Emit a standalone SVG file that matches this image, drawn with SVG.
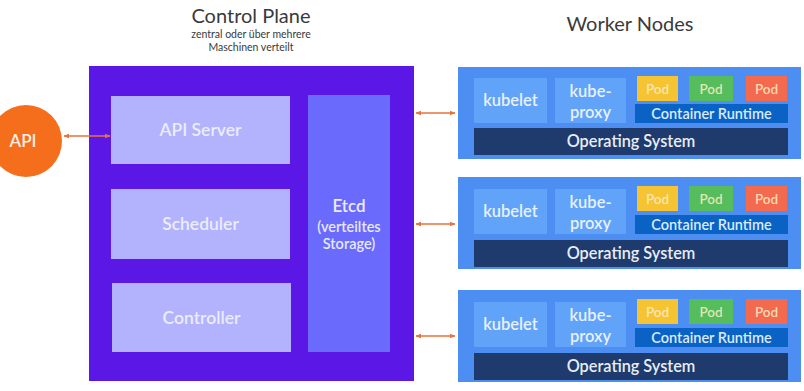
<svg xmlns="http://www.w3.org/2000/svg" width="804" height="391" viewBox="0 0 804 391">
  <defs>
    <marker id="ah" viewBox="0 0 10 10" refX="9" refY="5" markerWidth="6" markerHeight="6" orient="auto-start-reverse" markerUnits="userSpaceOnUse">
      <path d="M0,1 L10,5 L0,9 z" fill="#e8733a"/>
    </marker>
    <style>
      text { font-family: "Lato", "Open Sans", "Liberation Sans", sans-serif; text-anchor: middle; }
      .title { font-size: 20px; fill: #3a3a3a; }
      .sub { font-size: 10.5px; fill: #3a3a3a; }
      .cp { fill: #5a17e6; }
      .lav { fill: #b3b3fd; }
      .etcd { fill: #6a6bfd; }
      .cpt { font-size: 17.5px; font-weight: 600; fill: #ececff; }
      .et { font-size: 14.5px; font-weight: 600; fill: #e6e8ff; }
      .wn { fill: #4d8ef3; }
      .kb { fill: #60a3f8; }
      .os { fill: #1f3a6c; }
      .cr { fill: #0a62c4; }
      .py { fill: #f6c333; }
      .pg { fill: #55bd5c; }
      .pr { fill: #f46a4e; }
      .wt { font-size: 16.5px; font-weight: 600; fill: #e8f1ff; }
      .pt { font-size: 13.5px; font-weight: 600; fill: #fbeec8; fill-opacity: 0.85; }
      .crt { font-size: 14.5px; font-weight: 600; fill: #d9ecff; }
      .ost { font-size: 16.3px; font-weight: 600; fill: #e8eef8; }
      .conn { stroke: #e8733a; stroke-width: 1.5; fill: none; }
    </style>
  </defs>
  <rect width="804" height="391" fill="#ffffff"/>

  <!-- headings -->
  <text class="title" x="251" y="23">Control Plane</text>
  <text class="sub" x="251" y="38">zentral oder über mehrere</text>
  <text class="sub" x="251" y="51">Maschinen verteilt</text>
  <text class="title" x="630" y="31">Worker Nodes</text>

  <!-- external API -->
  <g id="api">
    <circle cx="26" cy="141" r="36" fill="#f56e1c"/>
    <text x="23" y="147" style="font-size:17px;font-weight:600;fill:#fff1e6">API</text>
  </g>

  <!-- control plane -->
  <g id="control-plane">
    <rect class="cp" x="89" y="66" width="325" height="315"/>
  </g>
  <g id="api-server">
    <rect class="lav" x="111" y="96" width="179" height="68"/>
    <text class="cpt" x="200.5" y="136">API Server</text>
  </g>
  <g id="scheduler">
    <rect class="lav" x="111" y="189" width="179" height="70"/>
    <text class="cpt" x="200.5" y="230">Scheduler</text>
  </g>
  <g id="controller">
    <rect class="lav" x="112" y="283" width="179" height="69"/>
    <text class="cpt" x="201.5" y="324">Controller</text>
  </g>
  <g id="etcd">
    <rect class="etcd" x="308" y="95" width="82" height="257"/>
    <text class="cpt" x="349" y="212" style="font-size:17px">Etcd</text>
    <text class="et" x="349" y="232">(verteiltes</text>
    <text class="et" x="349" y="249">Storage)</text>
  </g>

  <!-- worker node 1 -->
  <g id="worker-1">
    <rect class="wn" x="458" y="67" width="343" height="92"/>
    <rect class="kb" x="474" y="78" width="73" height="45"/>
    <text class="wt" x="510.5" y="106">kubelet</text>
    <rect class="kb" x="555" y="78" width="71" height="45"/>
    <text class="wt" x="590.5" y="97">kube-</text>
    <text class="wt" x="590.5" y="118">proxy</text>
    <rect class="py" x="637" y="76" width="41" height="25"/>
    <text class="pt" x="657.5" y="94">Pod</text>
    <rect class="pg" x="689" y="76" width="44" height="25"/>
    <text class="pt" x="711" y="94">Pod</text>
    <rect class="pr" x="746" y="76" width="41" height="25"/>
    <text class="pt" x="766.5" y="94">Pod</text>
    <rect class="cr" x="635" y="104" width="153" height="19"/>
    <text class="crt" x="711.5" y="119">Container Runtime</text>
    <rect class="os" x="474" y="128" width="314" height="27"/>
    <text class="ost" x="631" y="147">Operating System</text>
  </g>

  <!-- worker node 2 -->
  <g id="worker-2">
    <rect class="wn" x="458" y="177" width="343" height="92"/>
    <rect class="kb" x="474" y="189" width="73" height="45"/>
    <text class="wt" x="510.5" y="217">kubelet</text>
    <rect class="kb" x="555" y="189" width="71" height="45"/>
    <text class="wt" x="590.5" y="208">kube-</text>
    <text class="wt" x="590.5" y="229">proxy</text>
    <rect class="py" x="637" y="186" width="41" height="25"/>
    <text class="pt" x="657.5" y="204">Pod</text>
    <rect class="pg" x="689" y="186" width="44" height="25"/>
    <text class="pt" x="711" y="204">Pod</text>
    <rect class="pr" x="746" y="186" width="41" height="25"/>
    <text class="pt" x="766.5" y="204">Pod</text>
    <rect class="cr" x="635" y="215" width="153" height="19"/>
    <text class="crt" x="711.5" y="230">Container Runtime</text>
    <rect class="os" x="474" y="240" width="314" height="27"/>
    <text class="ost" x="631" y="259">Operating System</text>
  </g>

  <!-- worker node 3 -->
  <g id="worker-3">
    <rect class="wn" x="458" y="290" width="343" height="92"/>
    <rect class="kb" x="474" y="302" width="73" height="45"/>
    <text class="wt" x="510.5" y="330">kubelet</text>
    <rect class="kb" x="555" y="302" width="71" height="45"/>
    <text class="wt" x="590.5" y="321">kube-</text>
    <text class="wt" x="590.5" y="342">proxy</text>
    <rect class="py" x="637" y="299" width="41" height="25"/>
    <text class="pt" x="657.5" y="317">Pod</text>
    <rect class="pg" x="689" y="299" width="44" height="25"/>
    <text class="pt" x="711" y="317">Pod</text>
    <rect class="pr" x="746" y="299" width="41" height="25"/>
    <text class="pt" x="766.5" y="317">Pod</text>
    <rect class="cr" x="635" y="328" width="153" height="19"/>
    <text class="crt" x="711.5" y="343">Container Runtime</text>
    <rect class="os" x="474" y="353" width="314" height="27"/>
    <text class="ost" x="631" y="372">Operating System</text>
  </g>

  <!-- connectors -->
  <g id="connectors">
    <line class="conn" x1="64" y1="136" x2="110" y2="136" marker-start="url(#ah)" marker-end="url(#ah)"/>
    <line class="conn" x1="416" y1="113" x2="455" y2="113" marker-start="url(#ah)" marker-end="url(#ah)"/>
    <line class="conn" x1="416" y1="224" x2="455" y2="224" marker-start="url(#ah)" marker-end="url(#ah)"/>
    <line class="conn" x1="416" y1="336" x2="455" y2="336" marker-start="url(#ah)" marker-end="url(#ah)"/>
  </g>
</svg>
